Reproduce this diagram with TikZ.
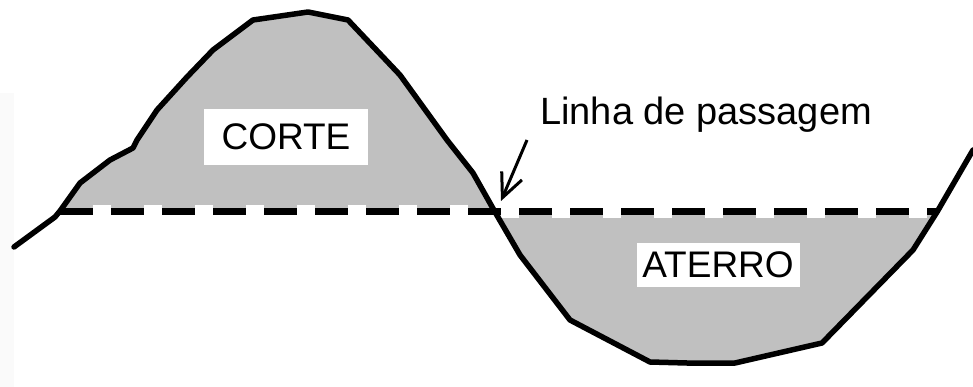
\documentclass[tikz,border=0pt]{standalone}
\usepackage{fontspec}
\setmainfont{Liberation Sans}
\usetikzlibrary{arrows.meta}
\definecolor{terra}{RGB}{192,192,192}
\tikzset{
	solo/.style={line width=5.5pt, line join=round, line cap=round},
	greide/.style={line width=7pt, dash pattern=on 33pt off 18pt},
	rotulo/.style={fill=white, inner sep=0pt, font=\fontsize{37}{40}\selectfont},
}
\begin{document}
\begin{tikzpicture}[x=1pt,y=-1pt]
		\useasboundingbox (0,0) rectangle (973,387);
		\fill[gray!4] (0,93) rectangle (14,387);

		\fill[terra] (60,212) -- (60,211) -- (80,183) -- (110,160) -- (133,148) -- (137,140) -- (157,110) -- (187,77) -- (213,50) -- (253,20) -- (308,12) -- (348,20) -- (400,75) -- (447,140) -- (473,173) -- (495,212) -- cycle;
		\fill[terra] (495,212) -- (520,255) -- (570,320) -- (650,362) -- (687,363) -- (735,363) -- (822,343) -- (913,250) -- (937,212) -- cycle;
		\draw[white, line width=13pt, dash pattern=on 18pt off 33pt, dash phase=18pt] (60,212) -- (937,212);

		\draw[solo] (14,247) -- (55,217) -- (60,211) -- (80,183) -- (110,160) -- (133,148) -- (137,140) -- (157,110) -- (187,77) -- (213,50) -- (253,20) -- (308,12) -- (348,20) -- (400,75) -- (447,140) -- (473,173) -- (495,212) -- (520,255) -- (570,320) -- (650,362) -- (687,363) -- (735,363) -- (822,343) -- (913,250) -- (937,212) -- (973,150);
		\draw[greide] (60,212) -- (937,212);

		\node[rotulo, minimum width=164pt, minimum height=56pt] (corte) at (286,137) {CORTE};
		\node[rotulo, minimum width=163pt, minimum height=44pt] (aterro) at (718,265) {ATERRO};
		\node[anchor=base west, inner sep=0pt, font=\fontsize{38}{40}\selectfont] (linha) at (540,125) {Linha de passagem};

		\coordinate (cauda) at (527,140);
		\coordinate (ponta) at (501,201);
		\draw[line width=3pt, -{Straight Barb[length=24pt,width=22pt]}] (cauda) -- (ponta);
	\end{tikzpicture}
\end{document}
